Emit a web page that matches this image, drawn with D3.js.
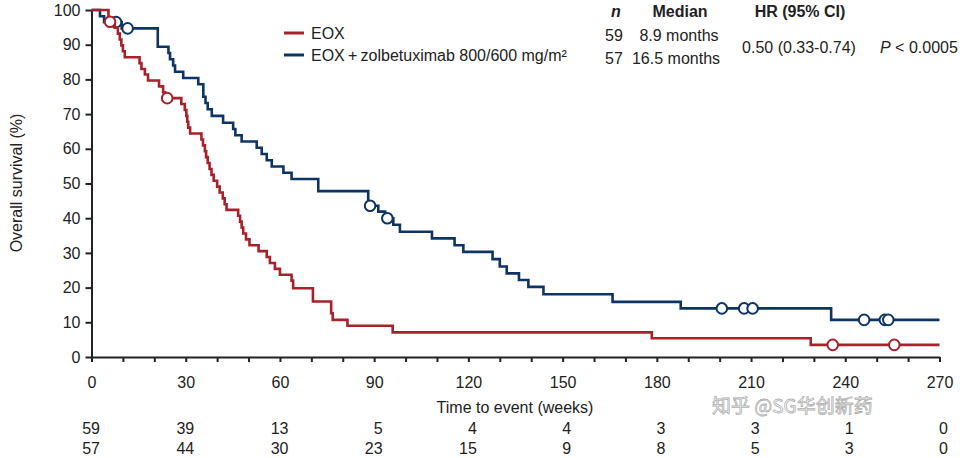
<!DOCTYPE html>
<html>
<head>
<meta charset="utf-8">
<script src="https://cdn.jsdelivr.net/npm/d3@7"></script>
<style>
  body { margin: 0; background: #fff; }
  svg { display: block; font-family: "Liberation Sans", Arial, sans-serif; }
</style>
</head>
<body>
<script>
var W = 963, H = 458;

// tick labels
var xTicks = [0, 30, 60, 90, 120, 150, 180, 210, 240, 270];
var yTicks = [0, 10, 20, 30, 40, 50, 60, 70, 80, 90, 100];

// number at risk
var riskEOX = [59, 39, 13, 5, 4, 4, 3, 3, 1, 0];
var riskZolbe = [57, 44, 30, 23, 15, 9, 8, 5, 3, 0];

// EOX step curve: week, survival %
var eoxWeeks = [0, 5.4, 7.4, 8.4, 9.0, 9.5, 10.0, 10.6, 15.3, 15.9, 17.0, 18.0, 21.5, 22.8, 23.4,
  28.6, 29.7, 30.2, 30.5, 30.8, 31.4, 35.0, 35.5, 36.1, 36.5, 37.0, 37.6, 38.2, 38.9, 40.0,
  40.8, 41.8, 42.4, 43.0, 46.7, 47.3, 47.8, 48.3, 49.2, 50.3, 53.2, 55.8, 56.8, 58.4, 60.0,
  63.7, 64.2, 70.5, 76.3, 76.8, 81.5, 95.9, 178.4, 229.0, 270];
var eoxSurv = [100, 96.6, 94.9, 93.2, 91.5, 89.8, 88.1, 86.4, 84.7, 83.0, 81.4, 79.7, 78.0, 76.3, 74.6,
  72.9, 71.2, 69.5, 67.8, 66.1, 64.4, 62.7, 61.0, 59.3, 57.6, 55.9, 54.2, 52.5, 50.8, 49.1,
  47.4, 45.7, 44.0, 42.4, 40.7, 39.0, 37.3, 35.6, 33.9, 32.2, 30.5, 28.8, 27.1, 25.4, 23.7,
  22.0, 19.8, 16.0, 12.6, 10.7, 9.0, 7.1, 5.4, 3.5, 3.5];
var eoxCensorWeeks = [5.9, 24.1, 236.0, 255.6];
var eoxCensorSurv = [96.6, 74.6, 3.5, 3.5];

// EOX + zolbetuximab step curve
var zolWeeks = [0, 2.7, 4.0, 9.6, 21.1, 24.5, 25.0, 26.0, 26.6, 29.2, 34.0, 35.6, 36.3, 37.0, 38.3,
  41.9, 45.1, 45.8, 47.8, 52.6, 54.2, 55.8, 57.4, 61.1, 63.7, 72.2, 88.1, 91.3, 93.5, 96.1,
  98.2, 108.4, 115.6, 118.4, 127.7, 130.0, 132.2, 136.1, 139.1, 143.9, 165.9, 187.6, 235.5, 270];
var zolSurv = [100, 98.2, 96.5, 94.7, 89.4, 87.6, 85.8, 84.0, 82.2, 80.4, 78.6, 75.0, 73.2, 71.4, 69.5,
  67.5, 65.7, 63.9, 62.1, 60.3, 58.5, 56.7, 54.9, 53.1, 51.3, 47.8, 43.6, 41.9, 40.0, 38.1,
  36.1, 34.2, 32.2, 30.3, 28.2, 26.1, 24.1, 22.2, 20.2, 18.1, 15.9, 14.0, 10.7, 10.7];
var zolCensorWeeks = [7.8, 11.5, 88.7, 94.2, 200.7, 207.8, 210.5, 246.0, 252.6, 253.7];
var zolCensorSurv = [96.5, 94.7, 43.6, 40.0, 14.0, 14.0, 14.0, 10.7, 10.7, 10.7];

var RED = '#a8202a', BLUE = '#0e3466', INK = '#222';

var svg = d3.select('body').append('svg').attr('width', W).attr('height', H);

var x = d3.scaleLinear().domain([0, 270]).range([91.5, 939.5]);
var y = d3.scaleLinear().domain([0, 100]).range([357, 10]);

// axes
var gy = svg.append('g').attr('transform', 'translate(' + x(0) + ',0)')
  .call(d3.axisLeft(y).tickValues(yTicks).tickSize(6).tickSizeOuter(0).tickPadding(5));
var gx = svg.append('g').attr('transform', 'translate(0,' + y(0) + ')')
  .call(d3.axisBottom(x).tickValues(d3.range(0, 271, 10)).tickSize(5).tickSizeOuter(0).tickPadding(15)
    .tickFormat(function(d) { return xTicks.indexOf(d) >= 0 ? d : ''; }));
[gx, gy].forEach(function(g) {
  g.selectAll('path, line').attr('stroke', INK).attr('stroke-width', 2);
  g.selectAll('text').attr('fill', INK).style('font-size', '16px');
});

svg.append('text').attr('x', 515).attr('y', 413).attr('text-anchor', 'middle')
  .attr('fill', INK).style('font-size', '16px').text('Time to event (weeks)');
svg.append('text').attr('transform', 'translate(22,183) rotate(-90)').attr('text-anchor', 'middle')
  .attr('fill', INK).style('font-size', '16px').text('Overall survival (%)');

// curves
var line = d3.line().curve(d3.curveStepAfter)
  .x(function(d) { return x(d[0]); }).y(function(d) { return y(d[1]); });

function drawArm(weeks, surv, cw, cs, col) {
  svg.append('path').datum(d3.zip(weeks, surv)).attr('d', line)
    .attr('fill', 'none').attr('stroke', col).attr('stroke-width', 2.6);
  svg.selectAll(null).data(d3.zip(cw, cs)).enter().append('circle')
    .attr('cx', function(d) { return x(d[0]); }).attr('cy', function(d) { return y(d[1]); })
    .attr('r', 5.3).attr('fill', '#fff').attr('stroke', col).attr('stroke-width', 2);
}
drawArm(zolWeeks, zolSurv, zolCensorWeeks, zolCensorSurv, BLUE);
drawArm(eoxWeeks, eoxSurv, eoxCensorWeeks, eoxCensorSurv, RED);

// legend
var legend = [['EOX', RED, 33], ['EOX\u2009+\u2009zolbetuximab 800/600 mg/m\u00b2', BLUE, 55]];
legend.forEach(function(l) {
  svg.append('line').attr('x1', 284).attr('x2', 304).attr('y1', l[2]).attr('y2', l[2])
    .attr('stroke', l[1]).attr('stroke-width', 3);
  svg.append('text').attr('x', 311).attr('y', l[2] + 6).attr('fill', INK)
    .style('font-size', '16px').text(l[0]);
});

// summary table
function txt(tx, ty, s, anchor, weight, style) {
  return svg.append('text').attr('x', tx).attr('y', ty).attr('text-anchor', anchor || 'start')
    .attr('fill', INK).style('font-size', '16px')
    .style('font-weight', weight || 'normal').style('font-style', style || 'normal').text(s);
}
txt(616, 17, 'n', 'middle', 'bold', 'italic');
txt(680, 17, 'Median', 'middle', 'bold');
txt(800, 17, 'HR (95% CI)', 'middle', 'bold');
txt(614, 41, '59', 'middle');
txt(679, 41, '8.9 months', 'middle');
txt(614, 64, '57', 'middle');
txt(676, 64, '16.5 months', 'middle');
txt(799, 53, '0.50 (0.33-0.74)', 'middle');
var p = txt(880, 53, '');
p.append('tspan').style('font-style', 'italic').text('P');
p.append('tspan').text(' < 0.0005');

// number at risk
[[riskEOX, 434], [riskZolbe, 454]].forEach(function(r) {
  svg.selectAll(null).data(r[0]).enter().append('text')
    .attr('x', function(d, i) { return x(xTicks[i]) + 8.5; }).attr('y', r[1])
    .attr('text-anchor', 'end').attr('fill', INK).style('font-size', '16px')
    .text(function(d) { return d; });
});

// watermark
svg.append('text').attr('x', 712).attr('y', 413).attr('fill', '#fff').attr('fill-opacity', 0.6)
  .attr('stroke', '#999').attr('stroke-width', 0.8).attr('stroke-opacity', 0.8)
  .style('font-family', '"Noto Sans CJK SC", sans-serif').style('font-size', '19px')
  .text('知乎 @SG华创新药');
</script>
</body>
</html>
